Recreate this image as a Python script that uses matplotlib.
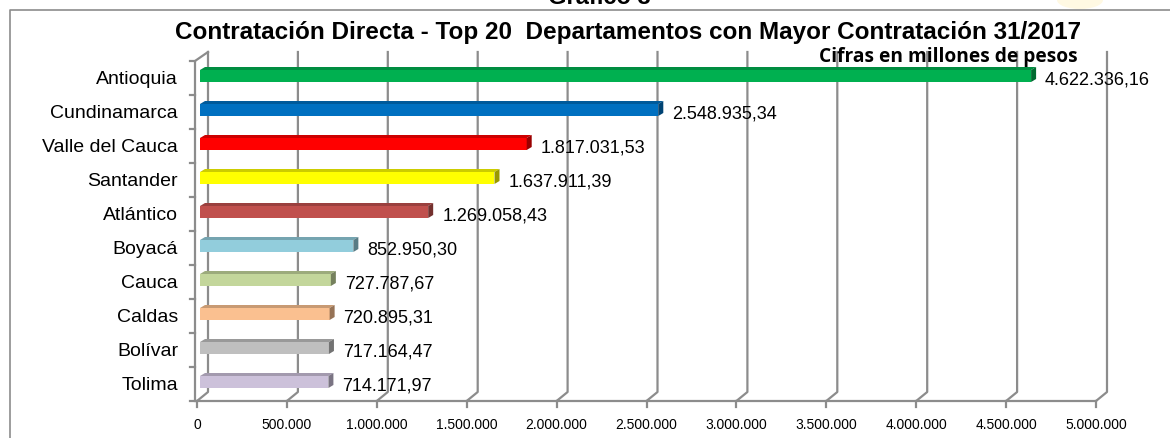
import numpy as np
import matplotlib.pyplot as plt
import matplotlib.colors as mc
from matplotlib.patches import Polygon, Ellipse
from matplotlib.lines import Line2D

# ── data ──────────────────────────────────────────────────────────────────────
departamentos = ["Antioquia", "Cundinamarca", "Valle del Cauca", "Santander", "Atlántico",
                 "Boyacá", "Cauca", "Caldas", "Bolívar", "Tolima"]
valores = [4622336.16, 2548935.34, 1817031.53, 1637911.39, 1269058.43,
           852950.30, 727787.67, 720895.31, 717164.47, 714171.97]
etiquetas = ["4.622.336,16", "2.548.935,34", "1.817.031,53", "1.637.911,39", "1.269.058,43",
             "852.950,30", "727.787,67", "720.895,31", "717.164,47", "714.171,97"]
colores = ["#00B050", "#0070C0", "#FF0000", "#FFFF00", "#C0504D",
           "#92CDDC", "#C3D69B", "#FAC090", "#BFBFBF", "#CCC1DA"]
ticks = np.arange(0, 5000001, 500000)
tick_labels = ["0", "500.000", "1.000.000", "1.500.000", "2.000.000", "2.500.000",
               "3.000.000", "3.500.000", "4.000.000", "4.500.000", "5.000.000"]

plt.rcParams['font.family'] = ['Liberation Sans', 'DejaVu Sans']

W, H = 1170, 438
fig = plt.figure(figsize=(W / 100, H / 100), dpi=100)

# axes: x 0 -> 5e6 spans px 197..1096, rows span px 61..401
L, R, T, B = 197, 1096, 61, 401
ax = fig.add_axes([L / W, (H - B) / H, (R - L) / W, (B - T) / H])
n = len(departamentos)
XMAX = 5000000
ax.set_xlim(0, XMAX)
ax.set_ylim(n - 0.5, -0.5)
ax.axis("off")

px = XMAX / (R - L)          # data units per pixel, x
py = n / (B - T)             # data units per pixel, y
DX, DY = 11 * px, 9 * py     # depth of the 3D box
grid = "#8C8C8C"
lw = 1.6

def line(xs, ys, **kw):
    ax.add_line(Line2D(xs, ys, color=grid, lw=lw, clip_on=False, **kw))

ybot, ytop = n - 0.5, -0.5
# back wall gridlines + floor diagonals
for t in ticks:
    line([t, t + DX, t + DX], [ybot, ybot - DY, ytop - DY])
    line([t, t], [ybot, ybot + 6 * py])
# floor front edge
line([0, XMAX], [ybot, ybot])
# left axis with ticks
line([-2 * px, -2 * px, DX], [ybot, ytop, ytop - DY])
for k in range(n + 1):
    yk = -0.5 + k
    line([-7 * px, -2 * px], [yk, yk])

# ── bars (fake 3D) ────────────────────────────────────────────────────────────
def shade(c, f):
    r, g, b = mc.to_rgb(c)
    return (r * f, g * f, b * f)

h = 12 * py
ox, oy = 3 * px, -2 * py
sx, sy = 5 * px, 3 * py
for i, (v, c) in enumerate(zip(valores, colores)):
    x0, x1 = ox, v + ox
    yt, yb = i + oy - h / 2, i + oy + h / 2
    ax.add_patch(Polygon([[x0, yt], [x1, yt], [x1, yb], [x0, yb]], closed=True,
                         facecolor=c, edgecolor="none", clip_on=False, zorder=3))
    ax.add_patch(Polygon([[x0, yt], [x1, yt], [x1 + sx, yt - sy], [x0 + sx, yt - sy]],
                         closed=True, facecolor=shade(c, 0.8), edgecolor="none",
                         clip_on=False, zorder=3))
    ax.add_patch(Polygon([[x1, yt], [x1, yb], [x1 + sx, yb - sy], [x1 + sx, yt - sy]],
                         closed=True, facecolor=shade(c, 0.6), edgecolor="none",
                         clip_on=False, zorder=3))
    ax.text(v + 17 * px, i + 2 * py, etiquetas[i], ha="left", va="center",
            fontsize=13, color="black", zorder=4)
    ax.text(-19 * px, i + 1 * py, departamentos[i], ha="right", va="center",
            fontsize=14, color="black")

for t, lab in zip(ticks, tick_labels):
    ax.text(t, ybot + 24 * py, lab, ha="center", va="center", fontsize=10)

# ── titles, frame ─────────────────────────────────────────────────────────────
fig.add_artist(Ellipse((1080 / W, 1.0), 46 / W, 18 / H, transform=fig.transFigure,
                       facecolor="#FFF9E3", edgecolor="none", zorder=0))
fig.add_artist(Line2D([10 / W, 10 / W, 1.0], [0, (H - 10) / H, (H - 10) / H],
                      color="#8C8C8C", lw=1.2, transform=fig.transFigure))
fig.text(599 / W, (H - 4) / H, "Gráfico 3", ha="center", va="baseline",
         fontsize=17, fontweight="bold")
fig.text(628 / W, (H - 33) / H,
         "Contratación Directa - Top 20  Departamentos con Mayor Contratación 31/2017",
         ha="center", va="center", fontsize=17.5, fontweight="bold")
fig.text(948 / W, (H - 57) / H, "Cifras en millones de pesos", ha="center", va="center",
         fontsize=13.8, fontweight="bold", family=["Open Sans", "DejaVu Sans"])

fig.savefig("out.png", dpi=100)
